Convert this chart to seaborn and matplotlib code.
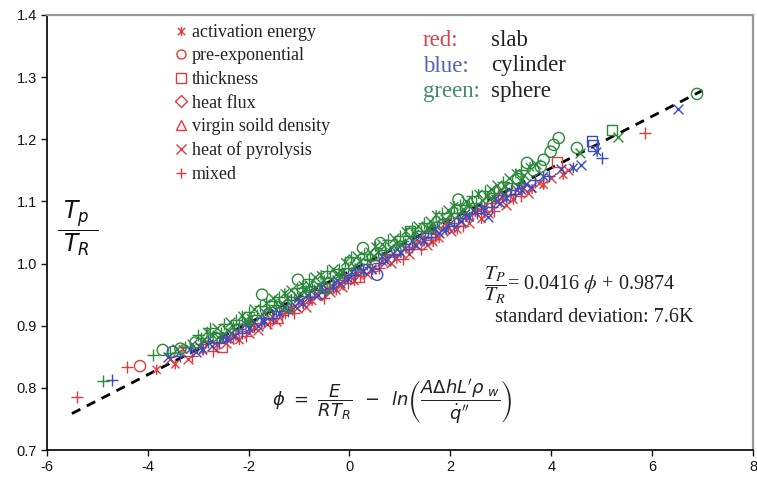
import matplotlib
matplotlib.use("Agg")
import numpy as np
import pandas as pd
import matplotlib.pyplot as plt
from matplotlib.path import Path
from matplotlib.lines import Line2D
import seaborn as sns

# (phi, Tp/TR, perturbed parameter) for each geometry
# parameter codes: E activation energy, P pre-exponential, T thickness,
# F heat flux, D virgin solid density, H heat of pyrolysis, M mixed
slab = [
    (-5.40, 0.785, "M"), (-4.41, 0.834, "M"), (-4.15, 0.835, "P"), (-3.82, 0.829, "E"),
    (-3.55, 0.846, "H"), (-3.45, 0.838, "E"), (-3.30, 0.862, "E"), (-3.20, 0.846, "H"),
    (-3.12, 0.851, "M"), (-2.95, 0.870, "M"), (-2.90, 0.860, "E"), (-2.80, 0.873, "M"),
    (-2.70, 0.860, "M"), (-2.62, 0.869, "E"), (-2.52, 0.866, "T"), (-2.45, 0.872, "H"),
    (-2.38, 0.879, "H"), (-2.30, 0.880, "M"), (-2.25, 0.884, "E"), (-2.18, 0.877, "E"),
    (-2.12, 0.892, "M"), (-2.05, 0.884, "M"), (-2.00, 0.889, "H"), (-1.95, 0.902, "M"),
    (-1.88, 0.897, "E"), (-1.82, 0.893, "H"), (-1.76, 0.905, "M"), (-1.70, 0.909, "E"),
    (-1.64, 0.903, "H"), (-1.58, 0.905, "M"), (-1.52, 0.914, "E"), (-1.46, 0.908, "H"),
    (-1.40, 0.911, "D"), (-1.34, 0.918, "M"), (-1.28, 0.921, "M"), (-1.22, 0.925, "H"),
    (-1.16, 0.927, "E"), (-1.10, 0.920, "M"), (-1.04, 0.929, "H"), (-1.00, 0.938, "E"),
    (-0.92, 0.936, "M"), (-0.86, 0.930, "H"), (-0.80, 0.941, "E"), (-0.74, 0.940, "E"),
    (-0.68, 0.950, "H"), (-0.60, 0.958, "M"), (-0.56, 0.949, "F"), (-0.50, 0.945, "M"),
    (-0.44, 0.958, "E"), (-0.38, 0.954, "H"), (-0.32, 0.963, "M"), (-0.26, 0.957, "E"),
    (-0.20, 0.966, "H"), (-0.14, 0.963, "H"), (-0.10, 0.980, "D"), (-0.08, 0.974, "E"),
    (-0.02, 0.969, "M"), (0.04, 0.977, "M"), (0.10, 0.972, "E"), (0.16, 0.985, "H"),
    (0.20, 0.978, "T"), (0.22, 0.980, "M"), (0.28, 0.987, "E"), (0.34, 0.983, "H"),
    (0.40, 0.995, "M"), (0.46, 0.990, "E"), (0.52, 0.996, "P"), (0.58, 0.993, "M"),
    (0.64, 1.004, "H"), (0.70, 1.016, "M"), (0.76, 1.007, "E"), (0.82, 1.001, "H"),
    (0.88, 1.015, "M"), (0.94, 1.008, "E"), (1.00, 1.018, "H"), (1.06, 1.007, "M"),
    (1.12, 1.024, "E"), (1.18, 1.016, "H"), (1.24, 1.027, "M"), (1.30, 1.030, "E"),
    (1.36, 1.036, "H"), (1.42, 1.024, "M"), (1.48, 1.038, "E"), (1.54, 1.030, "H"),
    (1.60, 1.046, "T"), (1.66, 1.035, "E"), (1.72, 1.047, "M"), (1.78, 1.041, "E"),
    (1.84, 1.055, "H"), (1.90, 1.066, "H"), (1.96, 1.059, "E"), (2.02, 1.052, "H"),
    (2.08, 1.066, "M"), (2.14, 1.055, "E"), (2.20, 1.068, "H"), (2.26, 1.061, "M"),
    (2.32, 1.076, "E"), (2.38, 1.066, "H"), (2.44, 1.079, "M"), (2.50, 1.083, "E"),
    (2.56, 1.087, "H"), (2.62, 1.072, "E"), (2.68, 1.090, "E"), (2.74, 1.081, "H"),
    (2.80, 1.097, "M"), (2.86, 1.085, "M"), (2.92, 1.099, "H"), (2.95, 1.110, "M"),
    (3.04, 1.106, "E"), (3.10, 1.094, "H"), (3.18, 1.110, "M"), (3.25, 1.103, "E"),
    (3.32, 1.118, "H"), (3.40, 1.108, "M"), (3.46, 1.121, "E"), (3.55, 1.113, "H"),
    (3.62, 1.120, "E"), (3.75, 1.129, "H"), (3.85, 1.127, "E"), (4.00, 1.137, "H"),
    (4.12, 1.164, "T"), (4.24, 1.143, "E"), (4.33, 1.150, "H"), (5.86, 1.210, "M"),
]

cylinder = [
    (-4.70, 0.813, "M"), (-3.60, 0.850, "H"), (-3.50, 0.858, "P"), (-3.35, 0.852, "M"),
    (-3.15, 0.862, "E"), (-3.05, 0.857, "H"), (-2.98, 0.867, "H"), (-2.90, 0.862, "E"),
    (-2.80, 0.876, "M"), (-2.72, 0.868, "H"), (-2.65, 0.880, "P"), (-2.58, 0.872, "M"),
    (-2.50, 0.882, "E"), (-2.42, 0.878, "E"), (-2.35, 0.889, "H"), (-2.28, 0.883, "H"),
    (-2.20, 0.894, "M"), (-2.12, 0.889, "M"), (-2.05, 0.902, "E"), (-1.98, 0.895, "E"),
    (-1.90, 0.906, "H"), (-1.82, 0.899, "H"), (-1.75, 0.913, "M"), (-1.68, 0.906, "E"),
    (-1.60, 0.919, "P"), (-1.52, 0.912, "M"), (-1.45, 0.925, "E"), (-1.38, 0.920, "E"),
    (-1.30, 0.930, "H"), (-1.22, 0.924, "M"), (-1.15, 0.941, "M"), (-1.08, 0.932, "H"),
    (-1.00, 0.944, "E"), (-0.92, 0.936, "E"), (-0.85, 0.950, "H"), (-0.78, 0.946, "M"),
    (-0.70, 0.958, "M"), (-0.62, 0.949, "H"), (-0.55, 0.962, "E"), (-0.48, 0.955, "M"),
    (-0.40, 0.968, "P"), (-0.32, 0.962, "E"), (-0.25, 0.973, "H"), (-0.18, 0.968, "H"),
    (-0.10, 0.982, "M"), (-0.02, 0.975, "E"), (0.05, 0.986, "E"), (0.12, 0.981, "M"),
    (0.20, 0.993, "H"), (0.28, 0.988, "E"), (0.35, 1.000, "M"), (0.42, 0.992, "H"),
    (0.55, 0.982, "P"), (0.58, 1.001, "M"), (0.65, 1.011, "E"), (0.72, 1.004, "H"),
    (0.80, 1.018, "D"), (0.88, 1.013, "M"), (0.95, 1.024, "H"), (1.02, 1.017, "E"),
    (1.10, 1.031, "M"), (1.18, 1.024, "M"), (1.25, 1.036, "E"), (1.32, 1.030, "H"),
    (1.40, 1.045, "H"), (1.48, 1.036, "E"), (1.55, 1.049, "M"), (1.62, 1.043, "M"),
    (1.70, 1.055, "E"), (1.78, 1.049, "H"), (1.85, 1.062, "P"), (1.92, 1.054, "E"),
    (2.00, 1.066, "H"), (2.08, 1.060, "M"), (2.15, 1.074, "M"), (2.22, 1.068, "H"),
    (2.30, 1.080, "E"), (2.38, 1.074, "E"), (2.45, 1.087, "H"), (2.52, 1.081, "M"),
    (2.60, 1.092, "M"), (2.68, 1.085, "E"), (2.74, 1.075, "H"), (2.82, 1.091, "M"),
    (2.90, 1.104, "E"), (2.98, 1.097, "H"), (3.05, 1.110, "H"), (3.12, 1.105, "E"),
    (3.20, 1.118, "M"), (3.28, 1.112, "M"), (3.35, 1.123, "E"), (3.42, 1.118, "E"),
    (3.50, 1.128, "H"), (3.60, 1.123, "H"), (3.68, 1.134, "M"), (3.85, 1.140, "E"),
    (3.95, 1.141, "M"), (4.20, 1.152, "H"), (4.44, 1.154, "E"), (4.60, 1.158, "H"),
    (4.81, 1.198, "T"), (4.83, 1.190, "T"), (4.91, 1.180, "E"), (5.00, 1.170, "M"),
    (6.51, 1.249, "H"),
]

sphere = [
    (-4.88, 0.811, "M"), (-3.89, 0.853, "M"), (-3.70, 0.861, "P"), (-3.55, 0.856, "M"),
    (-3.42, 0.862, "H"), (-3.35, 0.863, "P"), (-3.25, 0.866, "M"), (-3.12, 0.870, "H"),
    (-3.05, 0.873, "P"), (-3.00, 0.885, "M"), (-2.95, 0.880, "M"), (-2.88, 0.878, "H"),
    (-2.82, 0.890, "E"), (-2.76, 0.896, "M"), (-2.70, 0.884, "E"), (-2.62, 0.897, "H"),
    (-2.60, 0.882, "H"), (-2.55, 0.889, "M"), (-2.48, 0.903, "M"), (-2.42, 0.893, "H"),
    (-2.36, 0.906, "H"), (-2.30, 0.898, "E"), (-2.25, 0.910, "M"), (-2.18, 0.903, "M"),
    (-2.12, 0.916, "E"), (-2.06, 0.910, "H"), (-2.00, 0.922, "M"), (-2.00, 0.906, "E"),
    (-1.95, 0.912, "E"), (-1.90, 0.927, "H"), (-1.84, 0.918, "M"), (-1.78, 0.932, "M"),
    (-1.73, 0.950, "P"), (-1.70, 0.922, "H"), (-1.64, 0.936, "E"), (-1.58, 0.926, "E"),
    (-1.52, 0.945, "H"), (-1.50, 0.940, "M"), (-1.46, 0.933, "M"), (-1.40, 0.947, "M"),
    (-1.40, 0.932, "H"), (-1.34, 0.936, "H"), (-1.28, 0.952, "E"), (-1.22, 0.944, "E"),
    (-1.20, 0.930, "D"), (-1.16, 0.958, "H"), (-1.10, 0.946, "M"), (-1.04, 0.960, "M"),
    (-1.02, 0.974, "P"), (-0.98, 0.952, "H"), (-0.92, 0.965, "E"), (-0.86, 0.957, "E"),
    (-0.80, 0.975, "M"), (-0.80, 0.966, "H"), (-0.80, 0.957, "M"), (-0.74, 0.964, "M"),
    (-0.68, 0.978, "H"), (-0.62, 0.966, "H"), (-0.56, 0.981, "E"), (-0.50, 0.973, "E"),
    (-0.50, 0.960, "T"), (-0.44, 0.988, "M"), (-0.38, 0.977, "M"), (-0.32, 0.991, "H"),
    (-0.26, 0.983, "H"), (-0.20, 0.992, "M"), (-0.20, 0.981, "E"), (-0.14, 0.986, "E"),
    (-0.08, 1.002, "E"), (-0.02, 0.993, "M"), (0.00, 1.005, "F"), (0.04, 1.010, "M"),
    (0.10, 0.996, "H"), (0.16, 1.012, "H"), (0.22, 1.003, "E"), (0.27, 1.025, "P"),
    (0.28, 1.016, "M"), (0.34, 1.008, "M"), (0.40, 1.018, "H"), (0.40, 1.006, "M"),
    (0.46, 1.012, "H"), (0.52, 1.027, "E"), (0.58, 1.018, "E"), (0.61, 1.033, "P"),
    (0.64, 1.031, "H"), (0.70, 1.022, "M"), (0.76, 1.038, "M"), (0.82, 1.027, "H"),
    (0.88, 1.041, "H"), (0.94, 1.032, "E"), (1.00, 1.045, "M"), (1.00, 1.031, "H"),
    (1.06, 1.037, "M"), (1.12, 1.052, "E"), (1.18, 1.042, "H"), (1.20, 1.052, "T"),
    (1.24, 1.058, "M"), (1.30, 1.048, "E"), (1.36, 1.061, "H"), (1.42, 1.052, "M"),
    (1.48, 1.066, "M"), (1.54, 1.057, "H"), (1.60, 1.068, "H"), (1.60, 1.056, "E"),
    (1.66, 1.063, "E"), (1.72, 1.078, "E"), (1.78, 1.067, "M"), (1.84, 1.081, "M"),
    (1.90, 1.072, "H"), (1.96, 1.086, "H"), (2.02, 1.078, "E"), (2.08, 1.092, "E"),
    (2.14, 1.082, "M"), (2.16, 1.103, "P"), (2.20, 1.095, "M"), (2.20, 1.081, "M"),
    (2.26, 1.088, "H"), (2.32, 1.101, "H"), (2.38, 1.093, "E"), (2.40, 1.100, "D"),
    (2.44, 1.108, "M"), (2.50, 1.098, "M"), (2.56, 1.112, "E"), (2.62, 1.103, "H"),
    (2.68, 1.117, "M"), (2.74, 1.108, "E"), (2.80, 1.120, "H"), (2.80, 1.106, "H"),
    (2.86, 1.114, "M"), (2.92, 1.127, "H"), (2.98, 1.119, "H"), (3.04, 1.131, "M"),
    (3.10, 1.124, "E"), (3.16, 1.137, "H"), (3.22, 1.130, "M"), (3.30, 1.145, "E"),
    (3.34, 1.136, "P"), (3.40, 1.150, "M"), (3.40, 1.133, "E"), (3.46, 1.142, "H"),
    (3.52, 1.162, "P"), (3.58, 1.155, "E"), (3.65, 1.150, "P"), (3.70, 1.160, "H"),
    (3.79, 1.156, "P"), (3.85, 1.167, "P"), (3.99, 1.180, "P"), (4.05, 1.191, "P"),
    (4.15, 1.202, "P"), (4.51, 1.186, "P"), (4.58, 1.178, "H"), (5.21, 1.215, "T"),
    (5.33, 1.204, "H"), (6.89, 1.273, "P"),
]

# regression reported on the chart
fit_slope = 0.0416
fit_intercept = 0.9874
fit_range = [-5.5, 7.0]

legend_labels = ["activation energy", "pre-exponential", "thickness", "heat flux",
                 "virgin soild density", "heat of pyrolysis", "mixed"]
legend_codes = ["E", "P", "T", "F", "D", "H", "M"]

x_ticks = [-6, -4, -2, 0, 2, 4, 6, 8]
y_ticks = [0.7, 0.8, 0.9, 1.0, 1.1, 1.2, 1.3, 1.4]

geometries = ["slab", "cylinder", "sphere"]
geo_colors = {"slab": "#e23b3b", "cylinder": "#3a4cc0", "sphere": "#2b8a3a"}
word_colors = {"slab": "#d9434e", "cylinder": "#5361b8", "sphere": "#3f8f62"}
colour_words = {"slab": "red:", "cylinder": "blue:", "sphere": "green:"}

# Excel-style star: an x crossed by a vertical bar
star = Path([(-1, -1), (1, 1), (-1, 1), (1, -1), (0, -1.25), (0, 1.25)],
            [Path.MOVETO, Path.LINETO] * 3)
markers = {"E": star, "P": "o", "T": "s", "F": "D", "D": "^", "H": "x", "M": "+"}
sizes = {"E": 55, "P": 65, "T": 52, "F": 30, "D": 45, "H": 50, "M": 75}
line_art = {"H", "M"}

frames = []
for geo, pts in zip(geometries, [slab, cylinder, sphere]):
    f = pd.DataFrame(pts, columns=["phi", "ratio", "kind"])
    f["geometry"] = geo
    frames.append(f)
df = pd.concat(frames, ignore_index=True)

sns.set_theme(style="white")
plt.rcParams["font.family"] = ["Liberation Sans", "DejaVu Sans"]
plt.rcParams["axes.unicode_minus"] = False

W, H = 757, 480
fig = plt.figure(figsize=(W / 100, H / 100), dpi=100)
left_px, right_px, top_px, bottom_px = 46.7, 753, 15, 450
ax = fig.add_axes([left_px / W, 1 - bottom_px / H,
                   (right_px - left_px) / W, (bottom_px - top_px) / H])

# fitted line
fx = np.array(fit_range)
fy = fit_slope * fx + fit_intercept
sns.lineplot(x=fx, y=fy, ax=ax, color="black", linewidth=2.0,
             linestyle=(0, (3.4, 2.6)), zorder=2)

for geo in geometries:
    sub = df[df["geometry"] == geo]
    col = geo_colors[geo]
    for kind, grp in sub.groupby("kind"):
        style = dict(marker=markers[kind], s=sizes[kind], color=col,
                     linewidth=1.0, legend=False, zorder=3)
        if kind not in line_art:
            style.update(facecolor="none", edgecolor=col)
        sns.scatterplot(data=grp, x="phi", y="ratio", ax=ax, **style)

ax.set_xlim(-6, 8)
ax.set_ylim(0.7, 1.4)
ax.set_xticks(x_ticks)
ax.set_xticklabels([str(v) for v in x_ticks])
ax.set_yticks(y_ticks)
ax.set_yticklabels([f"{v:.1f}" for v in y_ticks])
ax.set_xlabel("")
ax.set_ylabel("")
ax.tick_params(axis="both", which="major", direction="out", length=4, width=1,
               labelsize=10.5, colors="#151515", pad=3)
ax.tick_params(top=False, right=False, left=True, bottom=True)

for side in ["left", "bottom"]:
    ax.spines[side].set_color("#111111")
    ax.spines[side].set_linewidth(1.3)
for side in ["top", "right"]:
    ax.spines[side].set_color("#9a9a9a")
    ax.spines[side].set_linewidth(1.6)


def fxp(px):
    return px / W


def fyp(py):
    return 1 - py / H


# parameter legend
handles = [Line2D([], [], linestyle="none", marker=markers[c], markersize=6.5,
                  markerfacecolor="none", markeredgecolor=geo_colors["slab"],
                  markeredgewidth=1.0) for c in legend_codes]
ax.legend(handles, legend_labels, loc="upper left",
          bbox_to_anchor=(fxp(174), fyp(24)), bbox_transform=fig.transFigure,
          frameon=False, borderpad=0, borderaxespad=0, handlelength=0.8,
          handletextpad=0.2, labelspacing=0.36,
          prop={"family": ["Liberation Serif"], "size": 13}, labelcolor="#222222")

# colour key for geometry
for geo, py in zip(geometries, [41, 66, 92]):
    fig.text(fxp(423), fyp(py), colour_words[geo], color=word_colors[geo],
             family=["Liberation Serif"], fontsize=16.5, va="center", ha="left")
    fig.text(fxp(491), fyp(py), geo, color="#222222",
             family=["Liberation Serif"], fontsize=16.5, va="center", ha="left")

# ratio label on the vertical axis side
fig.text(fxp(78), fyp(228), r"$\dfrac{\;T_p\;}{\;T_R\;}$", fontsize=17,
         math_fontfamily="dejavusans", ha="center", va="center", color="#111111")

# regression equation and scatter
fig.text(fxp(484), fyp(285),
         r"$\dfrac{T_P}{T_R}$" + "= " + f"{fit_slope}" + r" $\phi$ + " + f"{fit_intercept}",
         fontsize=14.5, family=["Liberation Serif"], math_fontfamily="stix",
         ha="left", va="center", color="#222222")
fig.text(fxp(495), fyp(318), "standard deviation: 7.6K", fontsize=14.5,
         family=["Liberation Serif"], ha="left", va="center", color="#222222")

# definition of phi
fig.text(fxp(272), fyp(402),
         r"$\phi\ =\ \dfrac{E}{RT_R}\ \ \mathsf{-}\ \ ln\left(\dfrac{A\Delta hL'\rho_{\ w}}{\dot{q}''}\right)$",
         fontsize=13, math_fontfamily="dejavusans", ha="left", va="center",
         color="#222222")

fig.savefig("out.png", dpi=100)
